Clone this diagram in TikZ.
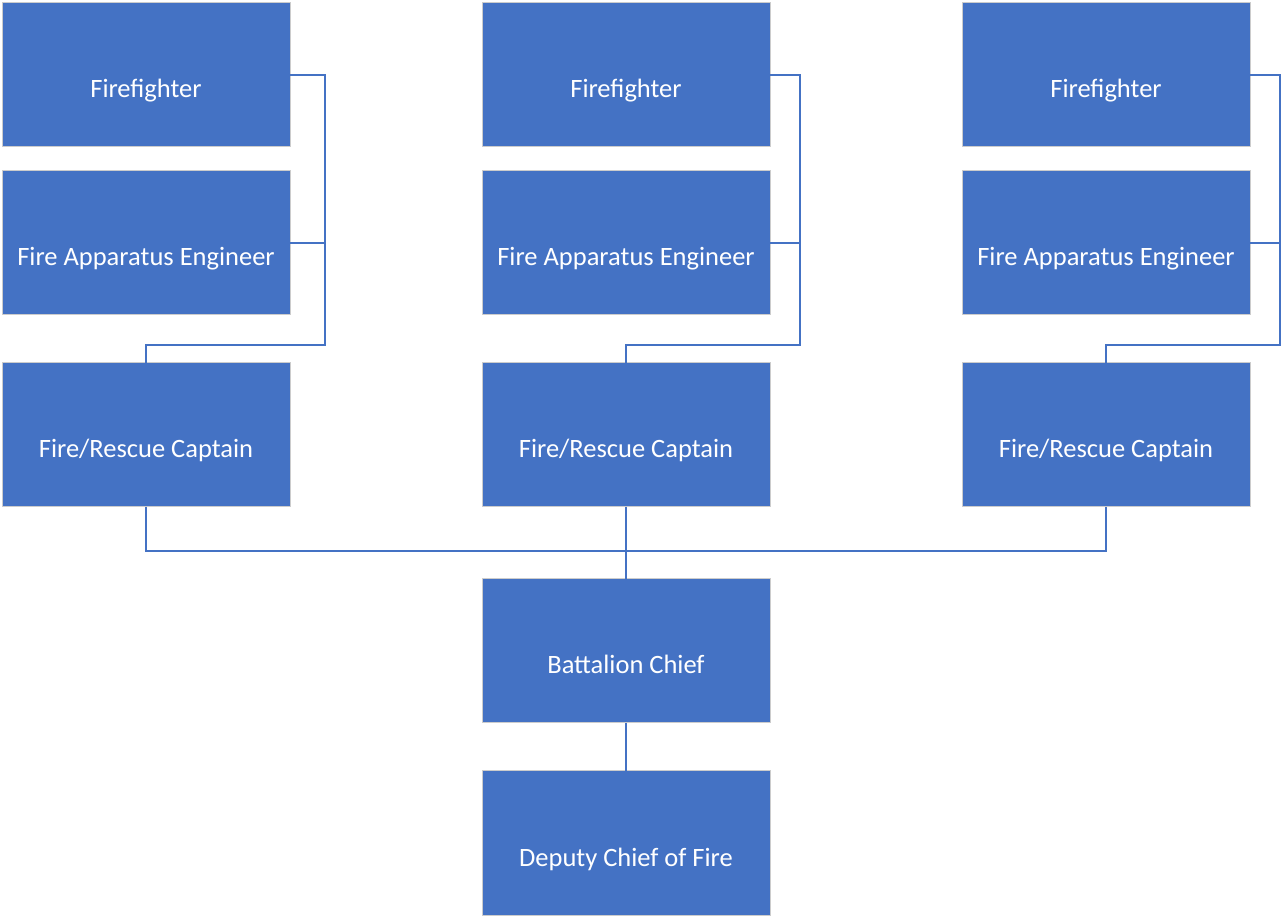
\documentclass[tikz,border=0pt]{standalone}
\usepackage{fontspec}
\setmainfont{Carlito}
\usetikzlibrary{positioning,calc}
\definecolor{chartblue}{HTML}{4472C4}
\tikzstyle{post} = [draw=gray!40,line width=1pt,fill=chartblue,text=white,rectangle,minimum width=288pt,minimum height=144pt,inner sep=0,outer sep=0,text height=52pt,text depth=6pt,font=\fontsize{26.5}{30}\selectfont]
\tikzstyle{link} = [-,line width=2pt,color=chartblue]
\def \jog {18}

\begin{document}
\begin{tikzpicture}[x=1pt,y=1pt]
  \useasboundingbox (0,0) rectangle (1281,915);
  \foreach \i/\x/\tu in {1/146/35, 2/626/30, 3/1106/30} {
    \node[post] (ff\i) at (\x,840) {Firefighter};
    \node[post,below=24pt of ff\i] (fae\i) {Fire Apparatus Engineer};
    \node[post,below=48pt of fae\i] (cap\i) {Fire/Rescue Captain};
    \draw[link] (ff\i.east) -- ++(\tu,0) coordinate (r\i) |- ($(cap\i.north)+(0,\jog)$) -- (cap\i.north);
    \draw[link] (fae\i.east) -- (fae\i.east -| r\i);
  }
  \node[post,below=72pt of cap2] (bc) {Battalion Chief};
  \node[post,below=48pt of bc] (dc) {Deputy Chief of Fire};
  \draw[link] (cap1.south) -- ++(0,-44) -| (cap3.south);
  \draw[link] (cap2.south) -- (bc.north);
  \draw[link] (bc.south) -- (dc.north);
\end{tikzpicture}
\end{document}
